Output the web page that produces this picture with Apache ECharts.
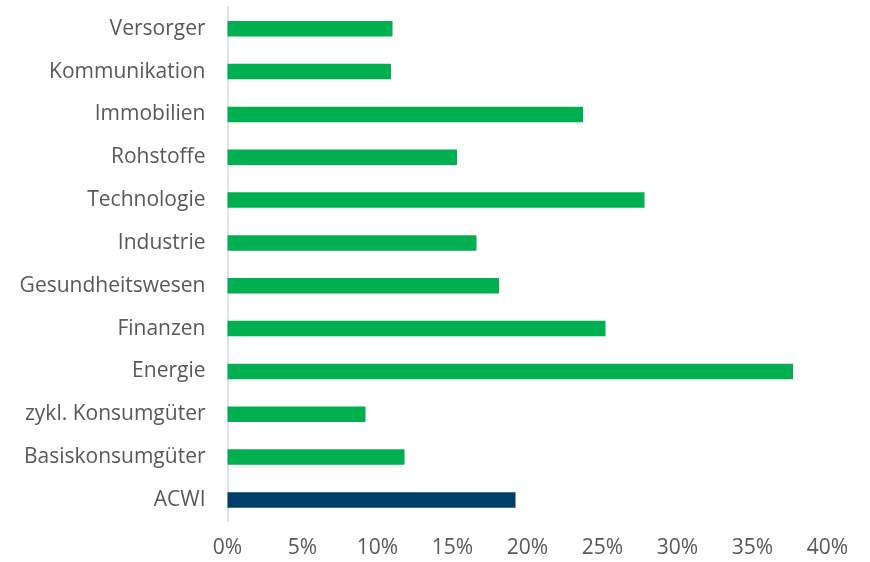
<!DOCTYPE html>
<html>
<head>
<meta charset="utf-8">
<script src="https://cdn.jsdelivr.net/npm/echarts@6/dist/echarts.min.js"></script>
<style>
  html, body { margin: 0; padding: 0; background: #fff; }
  #chart { width: 870px; height: 562px; }
</style>
</head>
<body>
<div id="chart"></div>
<script>
  // Sektoren von oben nach unten
  const sectors = ['Versorger', 'Kommunikation', 'Immobilien', 'Rohstoffe', 'Technologie', 'Industrie',
    'Gesundheitswesen', 'Finanzen', 'Energie', 'zykl. Konsumgüter', 'Basiskonsumgüter', 'ACWI']
  const returns = [11.0, 10.9, 23.7, 15.3, 27.8, 16.6, 18.1, 25.2, 37.7, 9.2, 11.8, 19.2]
  const benchmark = 'ACWI'
  const xTicks = [0, 5, 10, 15, 20, 25, 30, 35, 40]

  const font = 'Open Sans'
  const chart = echarts.init(document.getElementById('chart'))
  chart.setOption({
    animation: false,
    grid: { left: 227.5, right: 42.5, top: 7.3, height: 514, containLabel: false },
    xAxis: {
      type: 'value',
      min: xTicks[0],
      max: xTicks[xTicks.length - 1],
      interval: xTicks[1] - xTicks[0],
      splitLine: { show: false },
      axisLine: { show: false },
      axisTick: { show: false },
      axisLabel: {
        formatter: v => v + '%',
        color: '#595959',
        fontFamily: font,
        fontSize: 21,
        margin: 16
      }
    },
    yAxis: {
      type: 'category',
      inverse: true,
      data: sectors,
      axisLine: { show: true, lineStyle: { color: '#d9d9d9', width: 1.5 } },
      axisTick: { show: false },
      axisLabel: {
        color: '#595959',
        fontFamily: font,
        fontSize: 21,
        margin: 22
      }
    },
    series: [{
      type: 'bar',
      data: returns,
      barWidth: 15.5,
      itemStyle: {
        color: p => sectors[p.dataIndex] === benchmark ? '#003f69' : '#00af50'
      }
    }]
  })
</script>
</body>
</html>
